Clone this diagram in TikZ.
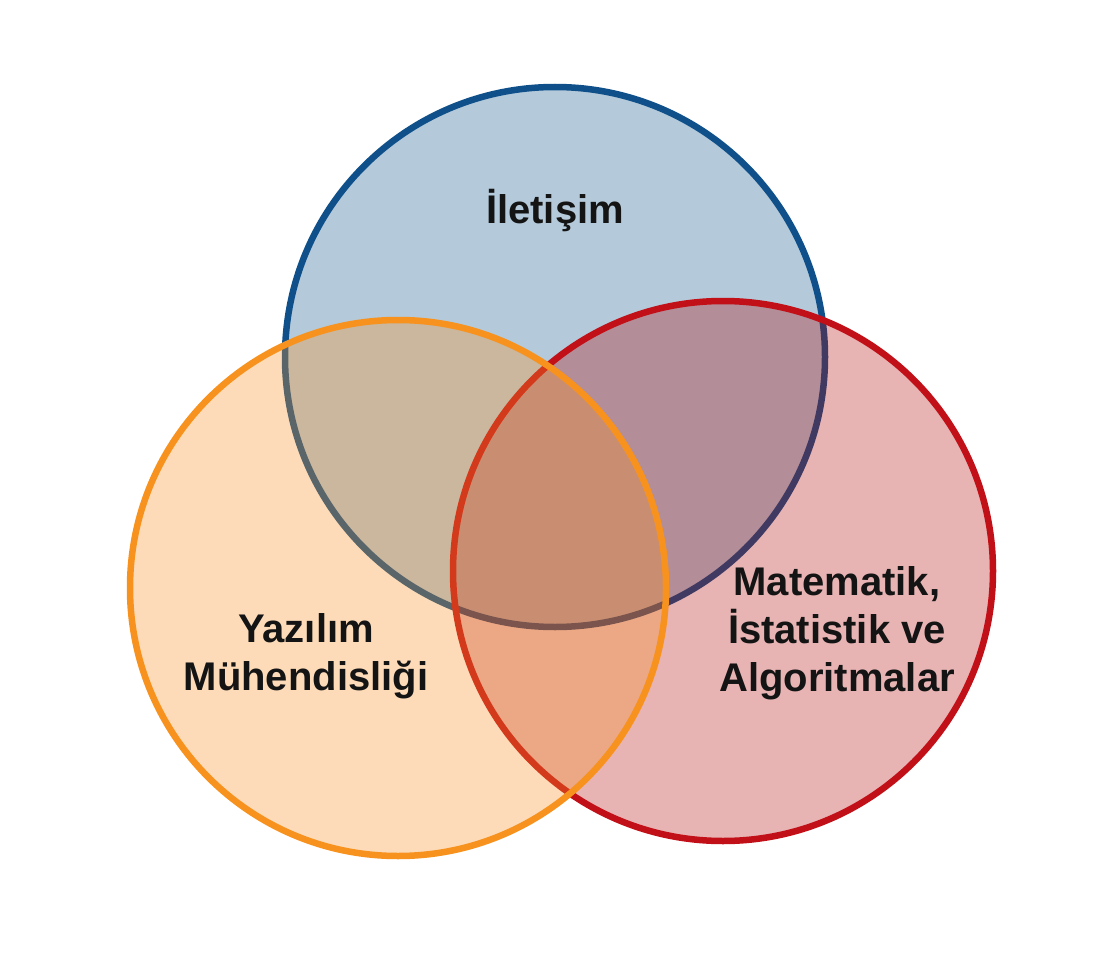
\documentclass[tikz,border=0pt]{standalone}
\usepackage{fontspec}
\setmainfont{Liberation Sans}
\begin{document}
\begin{tikzpicture}[x=1pt,y=-1pt]
\definecolor{bfill}{RGB}{68,120,162}
\definecolor{bline}{RGB}{16,80,138}
\definecolor{rfill}{RGB}{178,5,5}
\definecolor{rline}{RGB}{194,16,24}
\definecolor{ofill}{RGB}{249,146,36}
\definecolor{oline}{RGB}{248,146,30}
\tikzset{
  setcircle/.style={circle, inner sep=0pt, line width=6.5pt, draw opacity=1},
  label/.style={font=\bfseries\fontsize{40}{48}\selectfont, inner sep=0pt, align=center, text=black!92}
}
\fill[white] (0,0) rectangle (1120,955);
\useasboundingbox (0,0) rectangle (1120,955);
\node[setcircle, minimum size=540pt, draw=bline, fill=bfill, fill opacity=0.4] (blue) at (555,357) {};
\node[setcircle, minimum size=540pt, draw=rline, fill=rfill, fill opacity=0.3] (red) at (723,571) {};
\node[setcircle, minimum size=536pt, draw=oline, fill=ofill, fill opacity=0.32] (orange) at (398,588) {};
\node[label, anchor=base] (t1) at (555,223) {İletişim};
\node[label] (t2) at (306,656) {Yazılım\\Mühendisliği};
\node[label] (t3) at (837,633) {Matematik,\\İstatistik ve\\Algoritmalar};
\end{tikzpicture}
\end{document}
